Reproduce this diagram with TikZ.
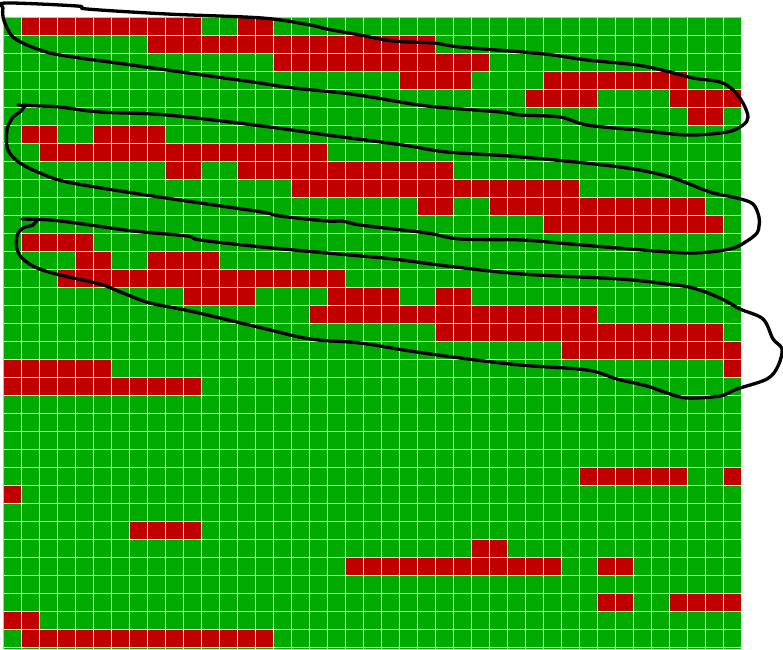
\documentclass[tikz,border=0pt]{standalone}
\definecolor{cellgreen}{RGB}{0,170,0}
\definecolor{cellred}{RGB}{192,0,0}
\definecolor{edgegray}{RGB}{190,190,190}
\tikzset{
  redcell/.style={fill=cellred},
  gridline/.style={draw=white,line width=1.7pt},
  edgeline/.style={draw=edgegray,line width=1.4pt},
  scribble/.style={draw=black,line width=3.3pt,line join=round,line cap=round}
}
\begin{document}
\begin{tikzpicture}[x=1pt,y=-1pt]
\useasboundingbox (0,0) rectangle (783,649);
\fill[white] (0,0) rectangle (783,649);
% green field
\fill[cellgreen] (3.5,17.5) rectangle (741.5,649);
% red cells: row/first/last column
\foreach \r/\a/\b in {0/1/10,0/13/14,1/8/23,2/15/26,3/22/25,3/30/37,4/29/32,4/37/40,5/38/39,
  6/1/2,6/5/8,7/2/17,8/9/10,8/13/24,9/16/31,10/23/24,10/27/38,11/30/39,12/1/4,13/4/5,13/8/11,
  14/3/18,15/10/13,15/18/21,15/24/25,16/17/32,17/24/39,18/31/40,19/0/5,19/40/40,20/0/10,
  25/32/37,25/40/40,26/0/0,28/7/10,29/26/27,30/19/30,30/33/34,32/33/34,32/37/40,33/0/1,34/1/14}
  \fill[redcell] ({3.5+18*\a},{17.5+18*\r}) rectangle ({3.5+18*(\b+1)},{17.5+18*(\r+1)});
% white grid lines
\foreach \c in {1,...,41}
  \draw[gridline] ({3.5+18*\c},17.5) -- ({3.5+18*\c},649);
\foreach \r in {1,...,35}
  \draw[gridline] (3.5,{17.5+18*\r}) -- (741.5,{17.5+18*\r});
% outer top and left edges
\draw[edgeline] (3.5,649) -- (3.5,17.5) -- (741.5,17.5);
% freehand loops
\draw[scribble] plot[smooth cycle,tension=0.55] coordinates {
  (6,3) (77,6) (87,9) (167,14) (262,18) (310,25) (327,29) (360,35) (393,41) (433,43) (460,47)
  (522,52) (553,55) (587,60) (637,65) (670,72) (693,78) (720,82) (733,90) (743,103) (748,117)
  (743,125) (727,132) (687,135) (637,130) (587,125) (560,117) (520,115) (500,112) (427,106)
  (377,98) (343,93) (293,88) (260,83) (217,77) (167,70) (117,63) (80,58) (50,53) (27,45)
  (13,37) (7,28) (3,17) (3,8)};
\draw[scribble] plot[smooth,tension=0.55] coordinates {
  (18,105) (40,106) (60,107) (100,112) (167,115) (262,126) (327,135) (403,145) (447,152)
  (522,157) (620,167) (670,177) (710,192) (737,198) (753,204) (759,217) (759,226) (757,233)
  (747,241) (730,249) (690,253) (630,249) (570,244) (522,240) (460,239) (427,233) (360,225)
  (343,221) (327,221) (280,216) (262,212) (200,203) (133,193) (67,182) (40,173) (20,163)
  (8,150) (7,130) (13,117) (20,112) (25,106)};
\draw[scribble] plot[smooth,tension=0.55] coordinates {
  (22,219) (50,220) (83,224) (133,231) (187,236) (200,240) (262,247) (327,253) (393,259)
  (447,266) (522,274) (620,279) (667,284) (693,288) (720,298) (740,309) (763,319) (773,339)
  (782,349) (778,366) (767,379) (737,389) (720,396) (687,398) (667,393) (647,386) (617,379)
  (587,370) (520,365) (460,358) (410,351) (360,343) (310,339) (262,328) (190,311) (150,303)
  (123,293) (100,284) (60,275) (37,268) (23,259) (17,249) (17,236) (23,228) (33,225) (37,220)};
\end{tikzpicture}
\end{document}
